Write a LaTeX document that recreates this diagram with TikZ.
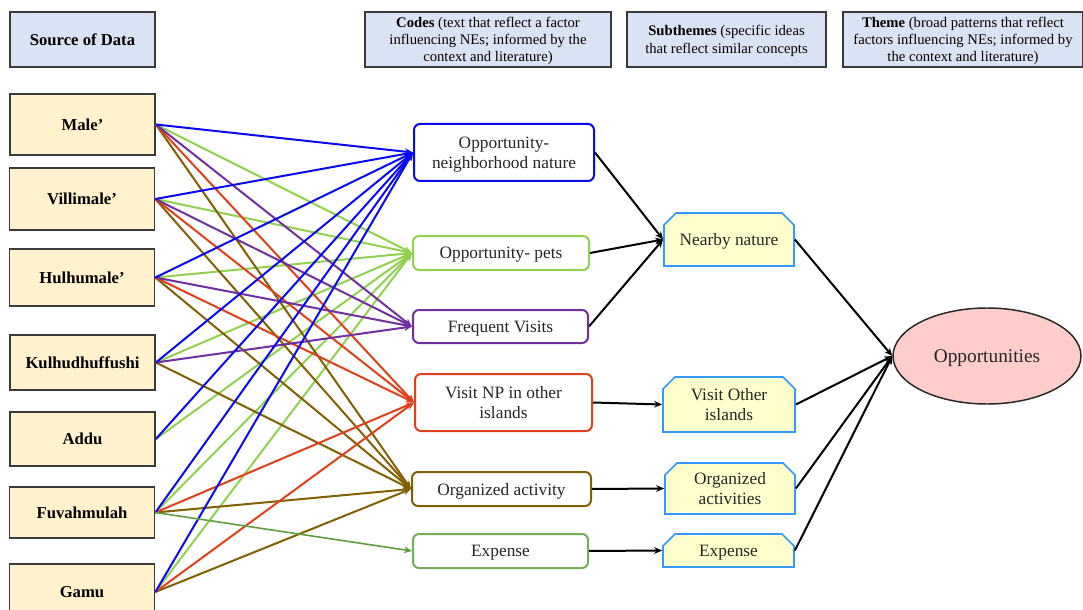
\documentclass[tikz,border=0pt]{standalone}
\usepackage{fontspec}
\setmainfont{Liberation Serif}
\usetikzlibrary{shapes.geometric,shapes.misc,arrows.meta}
\definecolor{hdrfill}{HTML}{DAE3F3}
\definecolor{srcfill}{HTML}{FFF2CC}
\definecolor{boxline}{HTML}{3A3A3A}
\definecolor{cblue}{HTML}{0A0AF0}
\definecolor{cgreen}{HTML}{92D050}
\definecolor{cpurple}{HTML}{7030A0}
\definecolor{cred}{HTML}{E0401A}
\definecolor{cbrown}{HTML}{806000}
\definecolor{cdgreen}{HTML}{5E9E3E}
\definecolor{subline}{HTML}{3399FF}
\definecolor{subfill}{HTML}{FFFFCC}
\definecolor{ellfill}{HTML}{FFCCCC}
\definecolor{txt}{HTML}{262626}
\tikzset{
  hdr/.style={draw=boxline, line width=1.5pt, fill=hdrfill, minimum height=41.25pt, inner sep=1pt, align=center, text depth=0pt, font=\fontsize{11}{13}\selectfont},
  src/.style={draw=boxline, line width=1.3pt, fill=srcfill, minimum width=108.75pt, align=center, font=\fontsize{12.5}{15}\selectfont\bfseries},
  code/.style={draw, rounded corners=4.5pt, line width=1.5pt, fill=white, align=center, inner sep=1pt, text depth=0pt, text=txt, font=\fontsize{13}{15}\selectfont},
  sub/.style={chamfered rectangle, chamfered rectangle corners={north west,north east}, chamfered rectangle xsep=4.5pt, chamfered rectangle ysep=4.5pt, draw=subline, fill=subfill, line width=1.3pt, align=center, inner sep=1pt, text depth=0pt, text=txt, font=\fontsize{13}{15}\selectfont},
  clink/.style={line width=1.5pt, -{Stealth[length=6pt,width=5pt]}},
  blink/.style={line width=1.5pt, black, -{Stealth[length=6pt,width=5pt]}},
}
\begin{document}
\begin{tikzpicture}[x=0.75pt,y=-0.75pt]
\useasboundingbox[fill=white] (0,0) rectangle (1083,610);
% headers
\node[hdr, minimum width=108.75pt, font=\fontsize{12.5}{15}\selectfont\bfseries] (hsrc) at (82.5,39.5) {Source of Data};
\node[hdr, minimum width=184.5pt] (hcode) at (488,39.5) {\textbf{Codes} (text that reflect a factor\\influencing NEs; informed by the\\context and literature)};
\node[hdr, minimum width=149.25pt] (hsub) at (726.5,39.5) {\textbf{Subthemes} (specific ideas\\that reflect similar concepts};
\node[hdr, minimum width=180pt] (htheme) at (963,39.5) {\textbf{Theme} (broad patterns that reflect\\factors influencing NEs; informed by\\the context and literature)};
% sources
\node[src, minimum height=45.75pt] (male) at (82.5,124.5) {Male’};
\node[src, minimum height=46.5pt] (vill) at (82,199) {Villimale’};
\node[src, minimum height=42.75pt] (hulh) at (82,277.5) {Hulhumale’};
\node[src, minimum height=41.25pt] (kulh) at (82.5,362.5) {Kulhudhuffushi};
\node[src, minimum height=40.5pt] (addu) at (82.5,439) {Addu};
\node[src, minimum height=38.25pt] (fuva) at (82,512.5) {Fuvahmulah};
\node[src, minimum height=42pt] (gamu) at (82,592) {Gamu};
% codes
\node[code, draw=cblue, minimum width=135pt, minimum height=42.75pt] (opn) at (504,152.5) {Opportunity-\\neighborhood nature};
\node[code, draw=cgreen, minimum width=132pt, minimum height=25.5pt] (pets) at (501,253) {Opportunity- pets};
\node[code, draw=cpurple, minimum width=131.25pt, minimum height=24.75pt] (freq) at (500.5,326.5) {Frequent Visits};
\node[code, draw=cred, minimum width=132.75pt, minimum height=42.75pt] (vnp) at (503.5,402.5) {Visit NP in other\\islands};
\node[code, draw=cbrown, minimum width=134.25pt, minimum height=25.5pt] (org) at (501.5,489) {Organized activity};
\node[code, draw=cdgreen!85!white, minimum width=131.25pt, minimum height=25.5pt] (exp) at (500.5,551) {Expense};
% subthemes
\node[sub, minimum width=97.5pt, minimum height=39.75pt] (nn) at (729,239.5) {Nearby nature};
\node[sub, minimum width=99pt, minimum height=41.25pt] (vo) at (729,404.5) {Visit Other\\islands};
\node[sub, minimum width=97.5pt, minimum height=38.25pt] (oa) at (730,488.5) {Organized\\activities};
\node[sub, minimum width=98.25pt, minimum height=24.75pt] (se) at (728.5,550.5) {Expense};
% theme
\node[ellipse, draw=black!85, line width=1.1pt, fill=ellfill, minimum width=141pt, minimum height=72pt, text depth=0pt, text=txt, font=\fontsize{14.5}{17}\selectfont] (opp) at (987,356) {Opportunities};
% colored connectors
\foreach \s in {male,vill,hulh,kulh,addu,fuva,gamu} \draw[clink, cgreen] (\s.east) -- (pets.west);
\foreach \s in {male,vill,hulh,kulh,fuva,gamu} \draw[clink, cbrown] (\s.east) -- (org.west);
\foreach \s in {male,vill,hulh,fuva,gamu} \draw[clink, cred] (\s.east) -- (vnp.west);
\foreach \s in {male,vill,hulh,kulh} \draw[clink, cpurple] (\s.east) -- (freq.west);
\foreach \s in {male,vill,hulh,kulh,addu,fuva,gamu} \draw[clink, cblue] (\s.east) -- (opn.west);
\draw[clink, cdgreen, line width=1.2pt] (fuva.east) -- (exp.west);
% black connectors
\draw[blink] (opn.east) -- (nn.west);
\draw[blink] (pets.east) -- (nn.west);
\draw[blink] (freq.east) -- (nn.west);
\draw[blink] (vnp.east) -- (vo.west);
\draw[blink] (org.east) -- (oa.west);
\draw[blink] (exp.east) -- (se.west);
\foreach \s in {nn,vo,oa,se} \draw[blink] (\s.east) -- (opp.west);
\end{tikzpicture}
\end{document}
